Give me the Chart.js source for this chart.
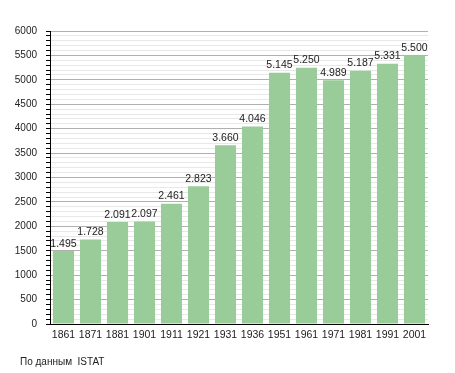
<!DOCTYPE html>
<html>
<head>
<meta charset="utf-8">
<script src="https://cdn.jsdelivr.net/npm/chart.js"></script>
<style>
  html, body { margin: 0; padding: 0; background: #fff; }
  #wrap { width: 455px; height: 373px; position: relative; }
</style>
</head>
<body>
<div id="wrap"><canvas id="popChart"></canvas></div>
<script>
// census years and population
const years = ['1861', '1871', '1881', '1901', '1911', '1921', '1931', '1936', '1951', '1961', '1971', '1981', '1991', '2001'];
const population = [1495, 1728, 2091, 2097, 2461, 2823, 3660, 4046, 5145, 5250, 4989, 5187, 5331, 5500];
const yTicks = [0, 500, 1000, 1500, 2000, 2500, 3000, 3500, 4000, 4500, 5000, 5500, 6000];
const footerText = 'По данным  ISTAT';

const FONT = "'Liberation Sans', Arial, sans-serif";

function fmt(v) {
  return String(v).replace(/\B(?=(\d{3})+(?!\d))/g, '.');
}

// value labels above bars + source note
const labelsPlugin = {
  id: 'labels',
  afterDatasetsDraw(chart) {
    const ctx = chart.ctx;
    const meta = chart.getDatasetMeta(0);
    ctx.save();
    ctx.font = '10.5px ' + FONT;
    ctx.fillStyle = '#222';
    ctx.textAlign = 'center';
    ctx.textBaseline = 'bottom';
    meta.data.forEach((bar, i) => {
      ctx.fillText(fmt(population[i]), bar.x, bar.y - 2);
    });
    ctx.textAlign = 'left';
    ctx.textBaseline = 'middle';
    ctx.font = '10px ' + FONT;
    ctx.fillText(footerText, 20, 362);
    ctx.restore();
  }
};

new Chart(document.getElementById('popChart'), {
  type: 'bar',
  data: {
    labels: years,
    datasets: [{
      data: population,
      backgroundColor: '#99cc99',
      borderWidth: 0,
      barPercentage: 0.78,
      categoryPercentage: 1
    }]
  },
  options: {
    responsive: true,
    maintainAspectRatio: false,
    animation: false,
    layout: { padding: { top: 31, right: 27, bottom: 29, left: 0 } },
    plugins: { legend: { display: false }, tooltip: { enabled: false } },
    scales: {
      x: {
        grid: { display: false, drawTicks: false },
        border: { color: '#000', width: 1 },
        ticks: { color: '#222', font: { family: FONT, size: 10.5 }, padding: 5, maxRotation: 0, autoSkip: false },
        afterFit(scale) { scale.height = 20; }
      },
      y: {
        min: 0,
        max: 6000,
        border: { color: '#000', width: 1 },
        grid: {
          color: c => (c.tick && c.tick.value % 500 === 0) ? '#b0b0b0' : '#e8e8e8',
          tickColor: '#000',
          tickLength: 4
        },
        ticks: {
          stepSize: 100,
          autoSkip: false,
          color: '#222',
          padding: 9,
          font: { family: FONT, size: 10 },
          callback: v => yTicks.includes(v) ? String(v) : ''
        },
        afterFit(scale) { scale.width = 50; }
      }
    }
  },
  plugins: [labelsPlugin]
});
</script>
</body>
</html>
